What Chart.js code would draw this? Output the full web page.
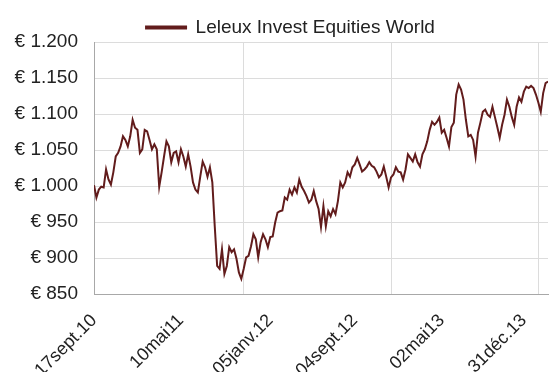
<!DOCTYPE html>
<html>
<head>
<meta charset="utf-8">
<script src="https://cdn.jsdelivr.net/npm/chart.js@4"></script>
<style>
  html, body { margin: 0; padding: 0; background: #fff; }
</style>
</head>
<body>
<canvas id="chart" width="549" height="372"></canvas>
<script>
// Series name
const seriesName = 'Leleux Invest Equities World';

// Weekly values (EUR)
const values = [
    1001, 984, 995, 999, 998, 1023, 1009, 1002, 1019, 1041,
    1046, 1055, 1069, 1064, 1055, 1069, 1092, 1081, 1078, 1046,
    1051, 1078, 1076, 1064, 1051, 1058, 1051, 999, 1019, 1041,
    1062, 1055, 1033, 1046, 1048, 1033, 1051, 1041, 1027, 1044,
    1027, 1005, 995, 991, 1013, 1034, 1026, 1013, 1026, 1005,
    944, 889, 885, 912, 878, 889, 915, 908, 912, 899,
    880, 871, 885, 901, 903, 916, 933, 926, 901, 922,
    933, 926, 915, 929, 930, 949, 963, 965, 966, 984,
    981, 995, 988, 998, 991, 1009, 999, 993, 986, 977,
    981, 993, 979, 968, 943, 972, 944, 965, 958, 968,
    961, 979, 1005, 998, 1005, 1019, 1013, 1026, 1030, 1039,
    1030, 1020, 1023, 1027, 1033, 1028, 1026, 1020, 1012, 1016,
    1027, 1013, 998, 1012, 1016, 1026, 1020, 1019, 1009, 1023,
    1044, 1039, 1034, 1044, 1033, 1027, 1044, 1051, 1062, 1078,
    1089, 1085, 1089, 1095, 1074, 1078, 1067, 1055, 1082, 1088,
    1127, 1141, 1134, 1120, 1092, 1069, 1071, 1064, 1041, 1074,
    1088, 1103, 1106, 1099, 1096, 1110, 1096, 1082, 1067, 1085,
    1099, 1120, 1110, 1096, 1085, 1110, 1123, 1117, 1131, 1138,
    1136, 1139, 1136, 1127, 1116, 1103, 1129, 1143, 1145
];

// Date labels on the x axis and the week they sit on
const dateLabels = ['17sept.10', '10mai11', '05janv.12', '04sept.12', '02mai13', '31déc.13'];
const labelWeeks = [0, 36, 73, 108, 144, 178];

// Weeks with a vertical grid line
const gridWeeks = [0, 62, 123, 184];

// Y axis range
const yMin = 850;
const yMax = 1200;
const yStep = 50;

const lineColor = '#621c1c';
const gridColor = '#dcdcdc';
const axisColor = '#a8a8a8';
const textColor = '#222';
const fontFamily = "'Liberation Sans', Arial, sans-serif";

// Format euro like 1.200
function formatEuro(v) {
    if (v >= 1000) return '€ ' + Math.floor(v / 1000) + '.' + String(v % 1000).padStart(3, '0');
    return '€ ' + v;
}

const points = values.map((v, i) => ({ x: i, y: v }));

// Move the legend a bit to the right, like the original
const legendShift = {
    id: 'legendShift',
    afterLayout(chart) {
        if (chart.legend) {
            chart.legend.left += 10;
            chart.legend.right += 10;
        }
    }
};

new Chart(document.getElementById('chart'), {
    type: 'line',
    data: {
        datasets: [{
            label: seriesName,
            data: points,
            borderColor: lineColor,
            backgroundColor: lineColor,
            borderWidth: 2,
            pointRadius: 0,
            tension: 0,
            xAxisID: 'x',
            yAxisID: 'y'
        }]
    },
    options: {
        responsive: false,
        animation: false,
        events: [],
        layout: { padding: { left: 13, right: 1, top: 18, bottom: 0 } },
        plugins: {
            legend: {
                display: true,
                position: 'top',
                maxHeight: 24,
                labels: {
                    boxWidth: 40,
                    boxHeight: 2,
                    padding: 0,
                    color: textColor,
                    font: { family: fontFamily, size: 19 }
                }
            },
            tooltip: { enabled: false }
        },
        scales: {
            x: {
                type: 'linear',
                min: 0,
                max: values.length - 1,
                afterBuildTicks: s => { s.ticks = labelWeeks.map(v => ({ value: v })); },
                afterFit: s => { s.height = 78; s.paddingLeft = 0; s.paddingRight = 0; },
                grid: { display: false, drawTicks: false },
                border: { display: true, color: axisColor, width: 1 },
                ticks: {
                    autoSkip: false,
                    minRotation: 45,
                    maxRotation: 45,
                    padding: 16,
                    color: textColor,
                    font: { family: fontFamily, size: 18 },
                    callback: v => dateLabels[labelWeeks.indexOf(v)]
                }
            },
            xg: {
                type: 'linear',
                position: 'bottom',
                min: 0,
                max: values.length - 1,
                afterBuildTicks: s => { s.ticks = gridWeeks.map(v => ({ value: v })); },
                afterFit: s => { s.height = 0; s.paddingLeft = 0; s.paddingRight = 0; },
                grid: { display: true, color: gridColor, lineWidth: 1, drawTicks: false },
                border: { display: false },
                ticks: { display: false }
            },
            y: {
                min: yMin,
                max: yMax,
                afterFit: s => { s.width = 81; },
                grid: { color: gridColor, lineWidth: 1, drawTicks: false },
                border: { display: true, color: axisColor, width: 1 },
                ticks: {
                    stepSize: yStep,
                    padding: 16,
                    color: textColor,
                    font: { family: fontFamily, size: 19 },
                    callback: v => formatEuro(v)
                }
            }
        }
    },
    plugins: [legendShift]
});
</script>
</body>
</html>
